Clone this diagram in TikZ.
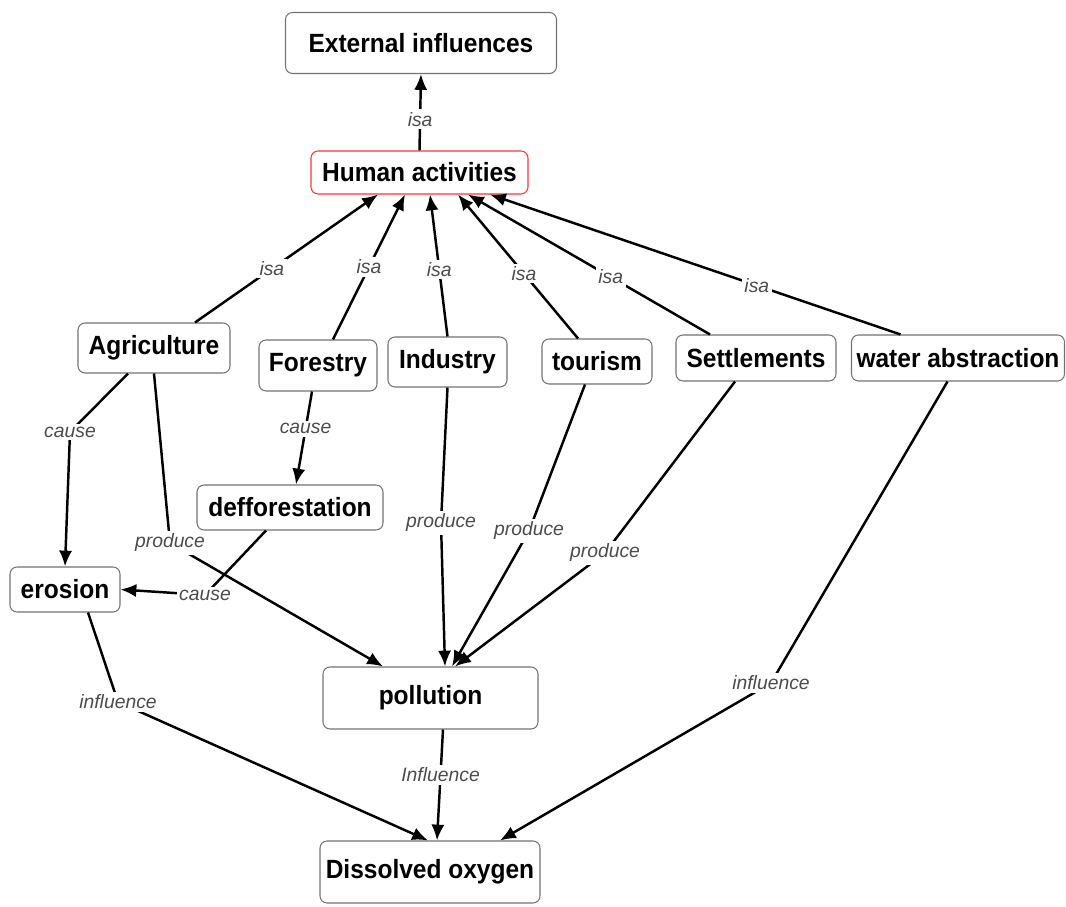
\documentclass[tikz,border=0pt]{standalone}
\usepackage{fontspec}
\setmainfont{Liberation Sans}
\newfontfamily\ndfont{Liberation Sans}[FakeStretch=0.93]
\usetikzlibrary{arrows.meta}

\begin{document}
\begin{tikzpicture}[conND/.style={rectangle,
                                      rounded corners=4pt,
                                      draw=black!55,
                                      line width=0.6pt,
                                      fill=white,
                                      inner sep=2pt,
                                      align=center,
                                      font=\ndfont\fontsize{15}{17}\selectfont\bfseries},
                    relLB/.style={fill=white,
                                      inner sep=1.5pt,
                                      text=black!70,
                                      font=\fontsize{11}{13}\selectfont\itshape},
                    relE/.style={-{Latex[length=9pt,width=7.5pt]}, line width=1.4pt}]
        \useasboundingbox (0,0) rectangle (21.32,-18.14);
        \node[conND, minimum width=5.42cm, minimum height=1.22cm](Ext) at (8.42,-0.86)  {External influences};
        \node[conND, draw=red!80, minimum width=4.34cm, minimum height=0.86cm](Hum) at (8.39,-3.45) {Human activities};
        \node[conND, minimum width=3.04cm, minimum height=1.0cm](Agri) at (3.08,-6.96)  {Agriculture};
        \node[conND, minimum width=2.36cm, minimum height=1.02cm](For) at (6.36,-7.31)  {Forestry};
        \node[conND, minimum width=2.38cm, minimum height=1.0cm](Ind) at (8.95,-7.24)  {Industry};
        \node[conND, minimum width=2.2cm, minimum height=0.9cm](Tour) at (11.94,-7.23) {tourism};
        \node[conND, minimum width=3.2cm, minimum height=0.92cm](Sett) at (15.12,-7.16) {Settlements};
        \node[conND, minimum width=4.26cm, minimum height=0.92cm](Wat) at (19.16,-7.16) {water abstraction};
        \node[conND, minimum width=3.72cm, minimum height=0.9cm](Def) at (5.8,-10.15)  {defforestation};
        \node[conND, minimum width=2.2cm, minimum height=0.9cm](Ero) at (1.3,-11.79)   {erosion};
        \node[conND, minimum width=4.3cm, minimum height=1.24cm](Pol) at (8.61,-13.96) {pollution};
        \node[conND, minimum width=4.4cm, minimum height=1.24cm](DO) at (8.6,-17.44)   {Dissolved oxygen};
        % isa links
        \path
            (Hum.north) edge [relE] node[relLB, pos=0.41] {isa} (Ext.south)
            ([xshift=0.82cm]Agri.north)   edge [relE] node[relLB, pos=0.42] {isa} ([xshift=-0.83cm]Hum.south)
            ([xshift=0.3cm]For.north)     edge [relE] node[relLB, pos=0.5]  {isa} ([xshift=-0.29cm]Hum.south)
            (Ind.north)                   edge [relE] node[relLB, pos=0.47] {isa} ([xshift=0.21cm]Hum.south)
            ([xshift=-0.38cm]Tour.north)  edge [relE] node[relLB, pos=0.45] {isa} ([xshift=0.77cm]Hum.south)
            ([xshift=-0.92cm]Sett.north)  edge [relE] node[relLB, pos=0.41] {isa} ([xshift=0.97cm]Hum.south)
            ([xshift=-1.15cm]Wat.north)   edge [relE] node[relLB, pos=0.35] {isa} ([xshift=1.41cm]Hum.south)
            ;
        % cause / produce / influence links
        \path
            ([xshift=-0.12cm]For.south)   edge [relE] node[relLB, pos=0.4]  {cause}   ([xshift=0.12cm]Def.north)
            ([xshift=0.25cm]Pol.south)    edge [relE] node[relLB, pos=0.41] {Influence} ([xshift=0.14cm]DO.north)
            ;
        \draw[relE] (Ind.south) -- (8.82,-10.46) node[relLB] {produce} -- ([xshift=0.29cm]Pol.north);
        \draw[relE] ([xshift=-0.24cm]Tour.south) -- (10.58,-10.62) node[relLB] {produce} -- ([xshift=0.43cm]Pol.north);
        \draw[relE] ([xshift=-0.42cm]Sett.south) -- (12.10,-11.06) node[relLB] {produce} -- ([xshift=0.49cm]Pol.north);
        \draw[relE] ([xshift=-0.52cm]Agri.south) -- (1.40,-8.64) node[relLB] {cause} -- (Ero.north);
        \draw[relE] (Agri.south) -- (3.40,-10.86) node[relLB] {produce} -- ([xshift=-0.95cm]Pol.north);
        \draw[relE] ([xshift=-0.48cm]Def.south) -- (4.10,-11.90) node[relLB] {cause} -- (Ero.east);
        \draw[relE] ([xshift=0.46cm]Ero.south) -- (2.36,-14.04) node[relLB] {influence} -- ([xshift=-0.04cm]DO.north);
        \draw[relE] ([xshift=-0.21cm]Wat.south) -- (15.42,-13.66) node[relLB] {influence} -- ([xshift=1.4cm]DO.north);
    \end{tikzpicture}
\end{document}
